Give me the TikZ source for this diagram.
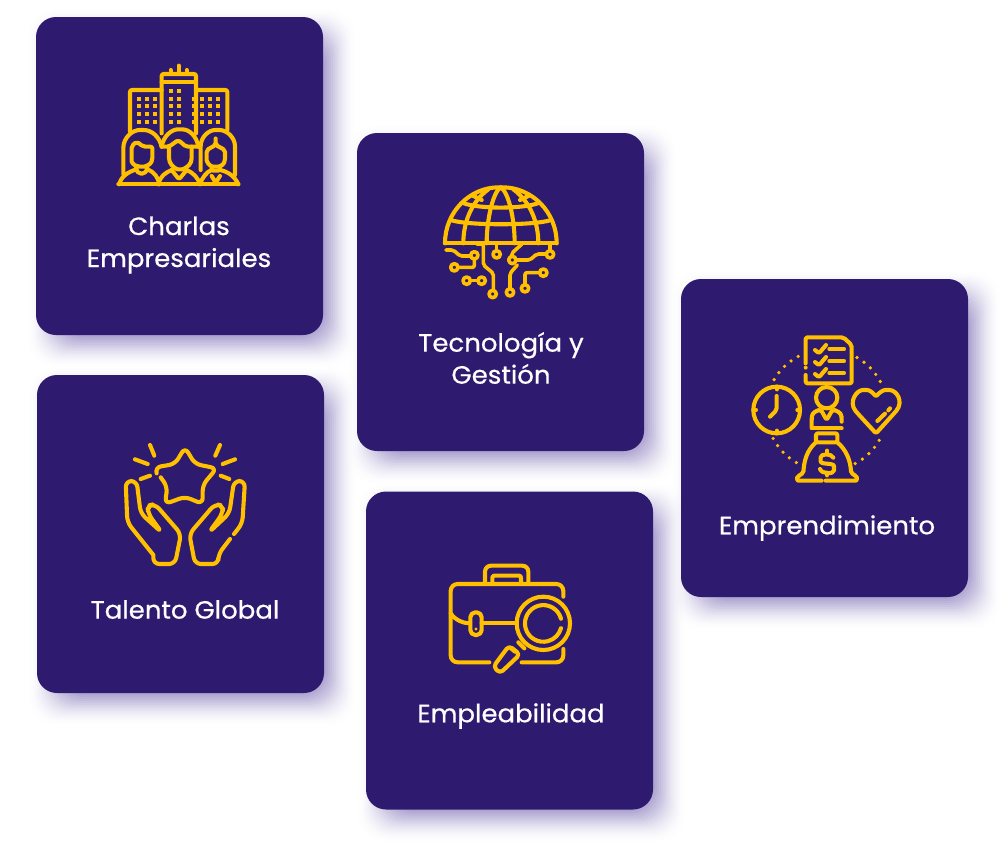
\documentclass[tikz,border=0pt]{standalone}
\usepackage{fontspec}
\setmainfont{Poppins}[FakeBold=0.6, FakeStretch=1.04]
\usepackage{tikz}
\definecolor{card}{RGB}{46, 26, 110}
\definecolor{gold}{RGB}{255, 192, 0}
\definecolor{glow}{RGB}{70, 50, 150}
\tikzset{
  cardbox/.style={fill=card, rounded corners=20pt, minimum width=287pt, minimum height=318pt, inner sep=0pt},
  cardtext/.style={text=white, align=center, font=\fontsize{25}{32}\selectfont},
  icon/.style={draw=gold, line width=4.1pt, line cap=round, line join=round, rounded corners=2pt},
  thin icon/.style={icon, line width=3.6pt},
  windows/.style={fill=gold},
}
% soft shadow behind a card, centre at (#1,#2)
\newcommand{\cardglow}[2]{
  \foreach \k [evaluate=\k as \fade using 0.004+0.0042*\k] in {0,...,15}
    \fill[glow, opacity=\fade, rounded corners=26pt]
      ({#1+12-143.5-20+2*\k}, {#2+12-159-20+2*\k}) rectangle ({#1+12+143.5+20-2*\k}, {#2+12+159+20-2*\k});
}

\begin{document}
\begin{tikzpicture}[x=1pt, y=-1pt]
  \useasboundingbox (0, 0) rectangle (1000, 841);

  \cardglow{179.5}{176}
  \cardglow{500.5}{292}
  \cardglow{824.5}{438}
  \cardglow{180.5}{534}
  \cardglow{509.5}{650.5}

  \node[cardbox] (charlas) at (179.5, 176) {};
  \node[cardbox] (tecnologia) at (500.5, 292) {};
  \node[cardbox] (emprende) at (824.5, 438) {};
  \node[cardbox] (talento) at (180.5, 534) {};
  \node[cardbox] (empleo) at (509.5, 650.5) {};

  \node[cardtext] (charlaslabel) at (179, 245) {Charlas\\Empresariales};
  \node[cardtext] (tecnologialabel) at (501, 358) {Tecnología y\\Gestión};
  \node[cardtext] (emprendelabel) at (827, 528) {Emprendimiento};
  \node[cardtext] (talentolabel) at (185, 609.5) {Talento Global};
  \node[cardtext] (empleolabel) at (511, 716) {Empleabilidad};

  % buildings and people
  \begin{scope}[shift={(100, 50)}, scale=1/3]
    \draw[icon] (185, 250) -- (185, 72) -- (288, 72) -- (288, 250);
    \draw[icon] (185, 96) -- (288, 96);
    \draw[icon] (212, 72) -- (212, 60) (236, 72) -- (236, 47) (260, 72) -- (260, 60);
    \draw[icon] (185, 120) -- (90, 120) -- (90, 245);
    \draw[icon] (288, 120) -- (382, 120) -- (382, 240);
    \foreach \yy in {146, 169, 192, 216} {
      \foreach \xx in {117, 141, 165, 212, 236, 283, 307, 330, 353}
        \fill[windows] (\xx-6, \yy-6) rectangle (\xx+6, \yy+6);
    }
    \foreach \xx in {212, 236}
      \fill[windows] (\xx-6, 116) rectangle (\xx+6, 128);

    \draw[icon] (55, 403) -- (415, 403);
    \draw[icon] (58, 403) .. controls (62, 380) and (85, 365) .. (110, 358);
    \draw[icon] (140, 358) .. controls (165, 365) and (175, 385) .. (178, 403);
    \draw[icon] (175, 403) .. controls (180, 380) and (195, 368) .. (215, 360);
    \draw[icon] (260, 360) .. controls (280, 368) and (295, 385) .. (300, 403);
    \draw[icon] (300, 403) .. controls (305, 385) and (320, 365) .. (335, 360);
    \draw[icon] (360, 360) .. controls (385, 365) and (405, 380) .. (415, 403);

    \draw[icon] (70, 372) -- (70, 300) .. controls (70, 262) and (98, 240) .. (125, 240) .. controls (155, 240) and (178, 260) .. (185, 290);
    \draw[icon] (95, 335) -- (95, 288) -- (110, 275) -- (130, 290) -- (157, 290) -- (157, 330) .. controls (150, 345) and (135, 350) .. (125, 350) .. controls (110, 350) and (100, 345) .. (95, 335);
    \draw[icon] (108, 352) .. controls (110, 378) and (140, 378) .. (142, 352);

    \draw[icon] (185, 290) .. controls (190, 258) and (215, 238) .. (240, 238) .. controls (268, 238) and (290, 258) .. (295, 290);
    \draw[icon] (185, 290) -- (207, 290) -- (235, 270) -- (258, 290) -- (295, 290);
    \draw[icon] (207, 290) -- (207, 330) .. controls (215, 350) and (230, 358) .. (240, 358) .. controls (250, 358) and (268, 350) .. (275, 330) -- (275, 290);
    \draw[icon] (215, 360) -- (237, 388) -- (260, 360);

    \draw[icon] (302, 360) -- (302, 295) .. controls (302, 262) and (325, 240) .. (352, 240) .. controls (380, 240) and (405, 262) .. (405, 295) -- (405, 375);
    \draw[icon] (320, 332) -- (320, 300) -- (347, 285) -- (347, 262) -- (347, 285) -- (375, 300) -- (375, 332) .. controls (368, 348) and (355, 350) .. (347, 350) .. controls (338, 350) and (326, 348) .. (320, 332);
    \draw[icon] (335, 352) -- (335, 362) -- (360, 362) -- (360, 352);
    \draw[icon] (335, 378) -- (347, 398) -- (360, 378);
  \end{scope}

  % globe
  \begin{scope}[shift={(430, 175)}, scale=1/3]
    \draw[icon] (45, 205) -- (380, 205);
    \draw[icon] (45, 205) .. controls (45, 110) and (120, 37) .. (212, 37) .. controls (305, 37) and (380, 110) .. (380, 205);
    \draw[icon] (212, 37) .. controls (190, 50) and (170, 130) .. (170, 205);
    \draw[icon] (212, 37) .. controls (235, 50) and (254, 130) .. (254, 205);
    \draw[icon] (175, 43) .. controls (125, 80) and (100, 140) .. (100, 205);
    \draw[icon] (250, 43) .. controls (300, 80) and (325, 140) .. (325, 205);
    \draw[icon] (62, 135) .. controls (110, 152) and (315, 152) .. (363, 135);
    \draw[icon] (102, 85) .. controls (150, 102) and (275, 102) .. (323, 85);
    \draw[icon] (128, 62) -- (155, 75) (297, 62) -- (270, 75);

    \foreach \xx/\yy in {133/241, 73/277, 188/357, 110/317, 155/317, 200/238, 247/255, 360/238, 240/352, 285/340, 340/293}
      \draw[thin icon] (\xx, \yy) circle (11);
    \draw[thin icon] (48, 225) -- (70, 225) -- (90, 243) -- (122, 243);
    \draw[thin icon] (85, 277) -- (133, 277) -- (133, 253);
    \draw[thin icon] (140, 207) -- (160, 207) -- (160, 270) -- (190, 295) -- (190, 346);
    \draw[thin icon] (121, 317) -- (144, 317);
    \draw[thin icon] (200, 207) -- (200, 227);
    \draw[thin icon] (275, 208) -- (245, 235) -- (245, 244);
    \draw[thin icon] (258, 255) -- (300, 255) -- (320, 237) -- (349, 237);
    \draw[thin icon] (360, 207) -- (360, 227);
    \draw[thin icon] (240, 341) -- (240, 295) -- (262, 270);
    \draw[thin icon] (285, 329) -- (285, 293) -- (329, 293);
  \end{scope}

  % checklist, clock, heart and bag around a person
  \begin{scope}[shift={(740, 325)}, scale=1/3]
    \draw[icon] (197, 115) -- (197, 37) -- (310, 37) -- (335, 60) -- (335, 175) -- (197, 175) -- (197, 150);
    \fill[gold] (197, 128) circle (6);
    \foreach \yy in {72, 108, 144} {
      \draw[icon] (225, \yy+3) -- (237, \yy+13) -- (258, \yy-12);
      \draw[icon] (268, \yy) -- (312, \yy);
    }
    \foreach \a in {30, 38, 46, 54, 62} {
      \foreach \b in {0, 90, 180, 270}
        \fill[gold, shift={(260, 255)}] (\a+\b:182) circle (5.5);
    }
    \draw[icon] (110, 255) circle (70);
    \draw[icon] (110, 213) -- (110, 255) -- (90, 275);
    \draw[icon] (110, 185) -- (110, 193) (110, 317) -- (110, 325) (40, 255) -- (48, 255) (172, 255) -- (180, 255);
    \draw[icon] (260, 218) circle (32);
    \draw[icon] (215, 305) -- (215, 280) .. controls (217, 262) and (230, 258) .. (242, 253) -- (260, 285) -- (278, 253) .. controls (290, 258) and (303, 262) .. (305, 280) -- (305, 290);
    \draw[icon] (215, 310) -- (305, 310);
    \draw[icon] (408, 325) -- (350, 262) .. controls (325, 230) and (350, 195) .. (375, 195) .. controls (390, 195) and (400, 205) .. (408, 215) .. controls (416, 205) and (428, 195) .. (442, 195) .. controls (470, 195) and (492, 230) .. (465, 262) -- cycle;
    \draw[icon] (412, 288) -- (435, 266) (445, 256) -- (450, 250);
    \draw[icon] (228, 325) -- (292, 325) -- (292, 352) -- (228, 352) -- cycle;
    \draw[icon] (228, 352) .. controls (200, 375) and (192, 410) .. (190, 445) -- (175, 452) .. controls (170, 460) and (172, 467) .. (180, 467) -- (245, 467);
    \draw[icon] (292, 352) .. controls (320, 375) and (332, 410) .. (333, 445) -- (348, 452) .. controls (352, 460) and (350, 467) .. (342, 467) -- (257, 467);
    \draw[icon] (280, 398) .. controls (275, 385) and (242, 385) .. (242, 403) .. controls (242, 420) and (282, 412) .. (282, 430) .. controls (282, 448) and (245, 448) .. (240, 432);
    \draw[icon] (261, 377) -- (261, 385) (261, 443) -- (261, 451);
  \end{scope}

  % star in two hands
  \begin{scope}[shift={(110, 435)}, scale=1/3]
    \draw[icon, rounded corners=6pt] (152, 127) -- (172, 155) -- (165, 207) -- (225, 185) -- (278, 207) -- (278, 150) -- (320, 100) -- (255, 87) -- (225, 37) -- (195, 87) -- (135, 97) -- (140, 115);
    \draw[icon] (120, 30) -- (133, 62) (330, 30) -- (316, 62);
    \draw[icon] (75, 73) -- (113, 87) (375, 73) -- (338, 87);
    \draw[icon] (92, 132) -- (120, 122) (358, 132) -- (332, 122);
    \draw[icon, rounded corners=6pt] (130, 360) -- (130, 387) -- (195, 387) -- (213, 297) -- (135, 207) -- (112, 212) -- (115, 237) -- (155, 292) -- (92, 235) -- (80, 138) -- (47, 138) -- (52, 262) -- (130, 360);
    \draw[icon, rounded corners=6pt] (372, 297) -- (397, 265) -- (405, 138) -- (372, 138) -- (358, 235) -- (297, 292) -- (337, 237) -- (340, 212) -- (315, 207) -- (238, 297) -- (255, 387) -- (325, 387) -- (325, 358) -- (360, 312);
  \end{scope}

  % briefcase and magnifier
  \begin{scope}[shift={(435, 555)}, scale=1/3]
    \draw[icon, rounded corners=7pt] (163, 322) -- (47, 322) -- (47, 87) -- (385, 87) -- (385, 125);
    \draw[icon, rounded corners=7pt] (260, 322) -- (385, 322) -- (385, 282);
    \draw[icon, rounded corners=6pt] (150, 87) -- (150, 32) -- (280, 32) -- (280, 87);
    \draw[icon] (172, 87) -- (172, 62) -- (258, 62) -- (258, 87);
    \draw[icon] (47, 175) .. controls (60, 195) and (85, 205) .. (105, 205);
    \draw[icon, rounded corners=5pt] (106, 172) rectangle (140, 240);
    \fill[gold] (123, 222) circle (5);
    \draw[icon] (140, 205) -- (245, 205);
    \draw[icon] (325, 205) circle (80);
    \draw[icon] (378, 191) arc[start angle=-15, end angle=-345, radius=55];
    \draw[icon] (250, 262) -- (268, 280);
    \draw[icon, rounded corners=4pt] (222, 272) -- (255, 298) -- (195, 355) -- (175, 335) -- cycle;
    \draw[icon] (240, 290) -- (228, 280);
  \end{scope}

\end{tikzpicture}
\end{document}
